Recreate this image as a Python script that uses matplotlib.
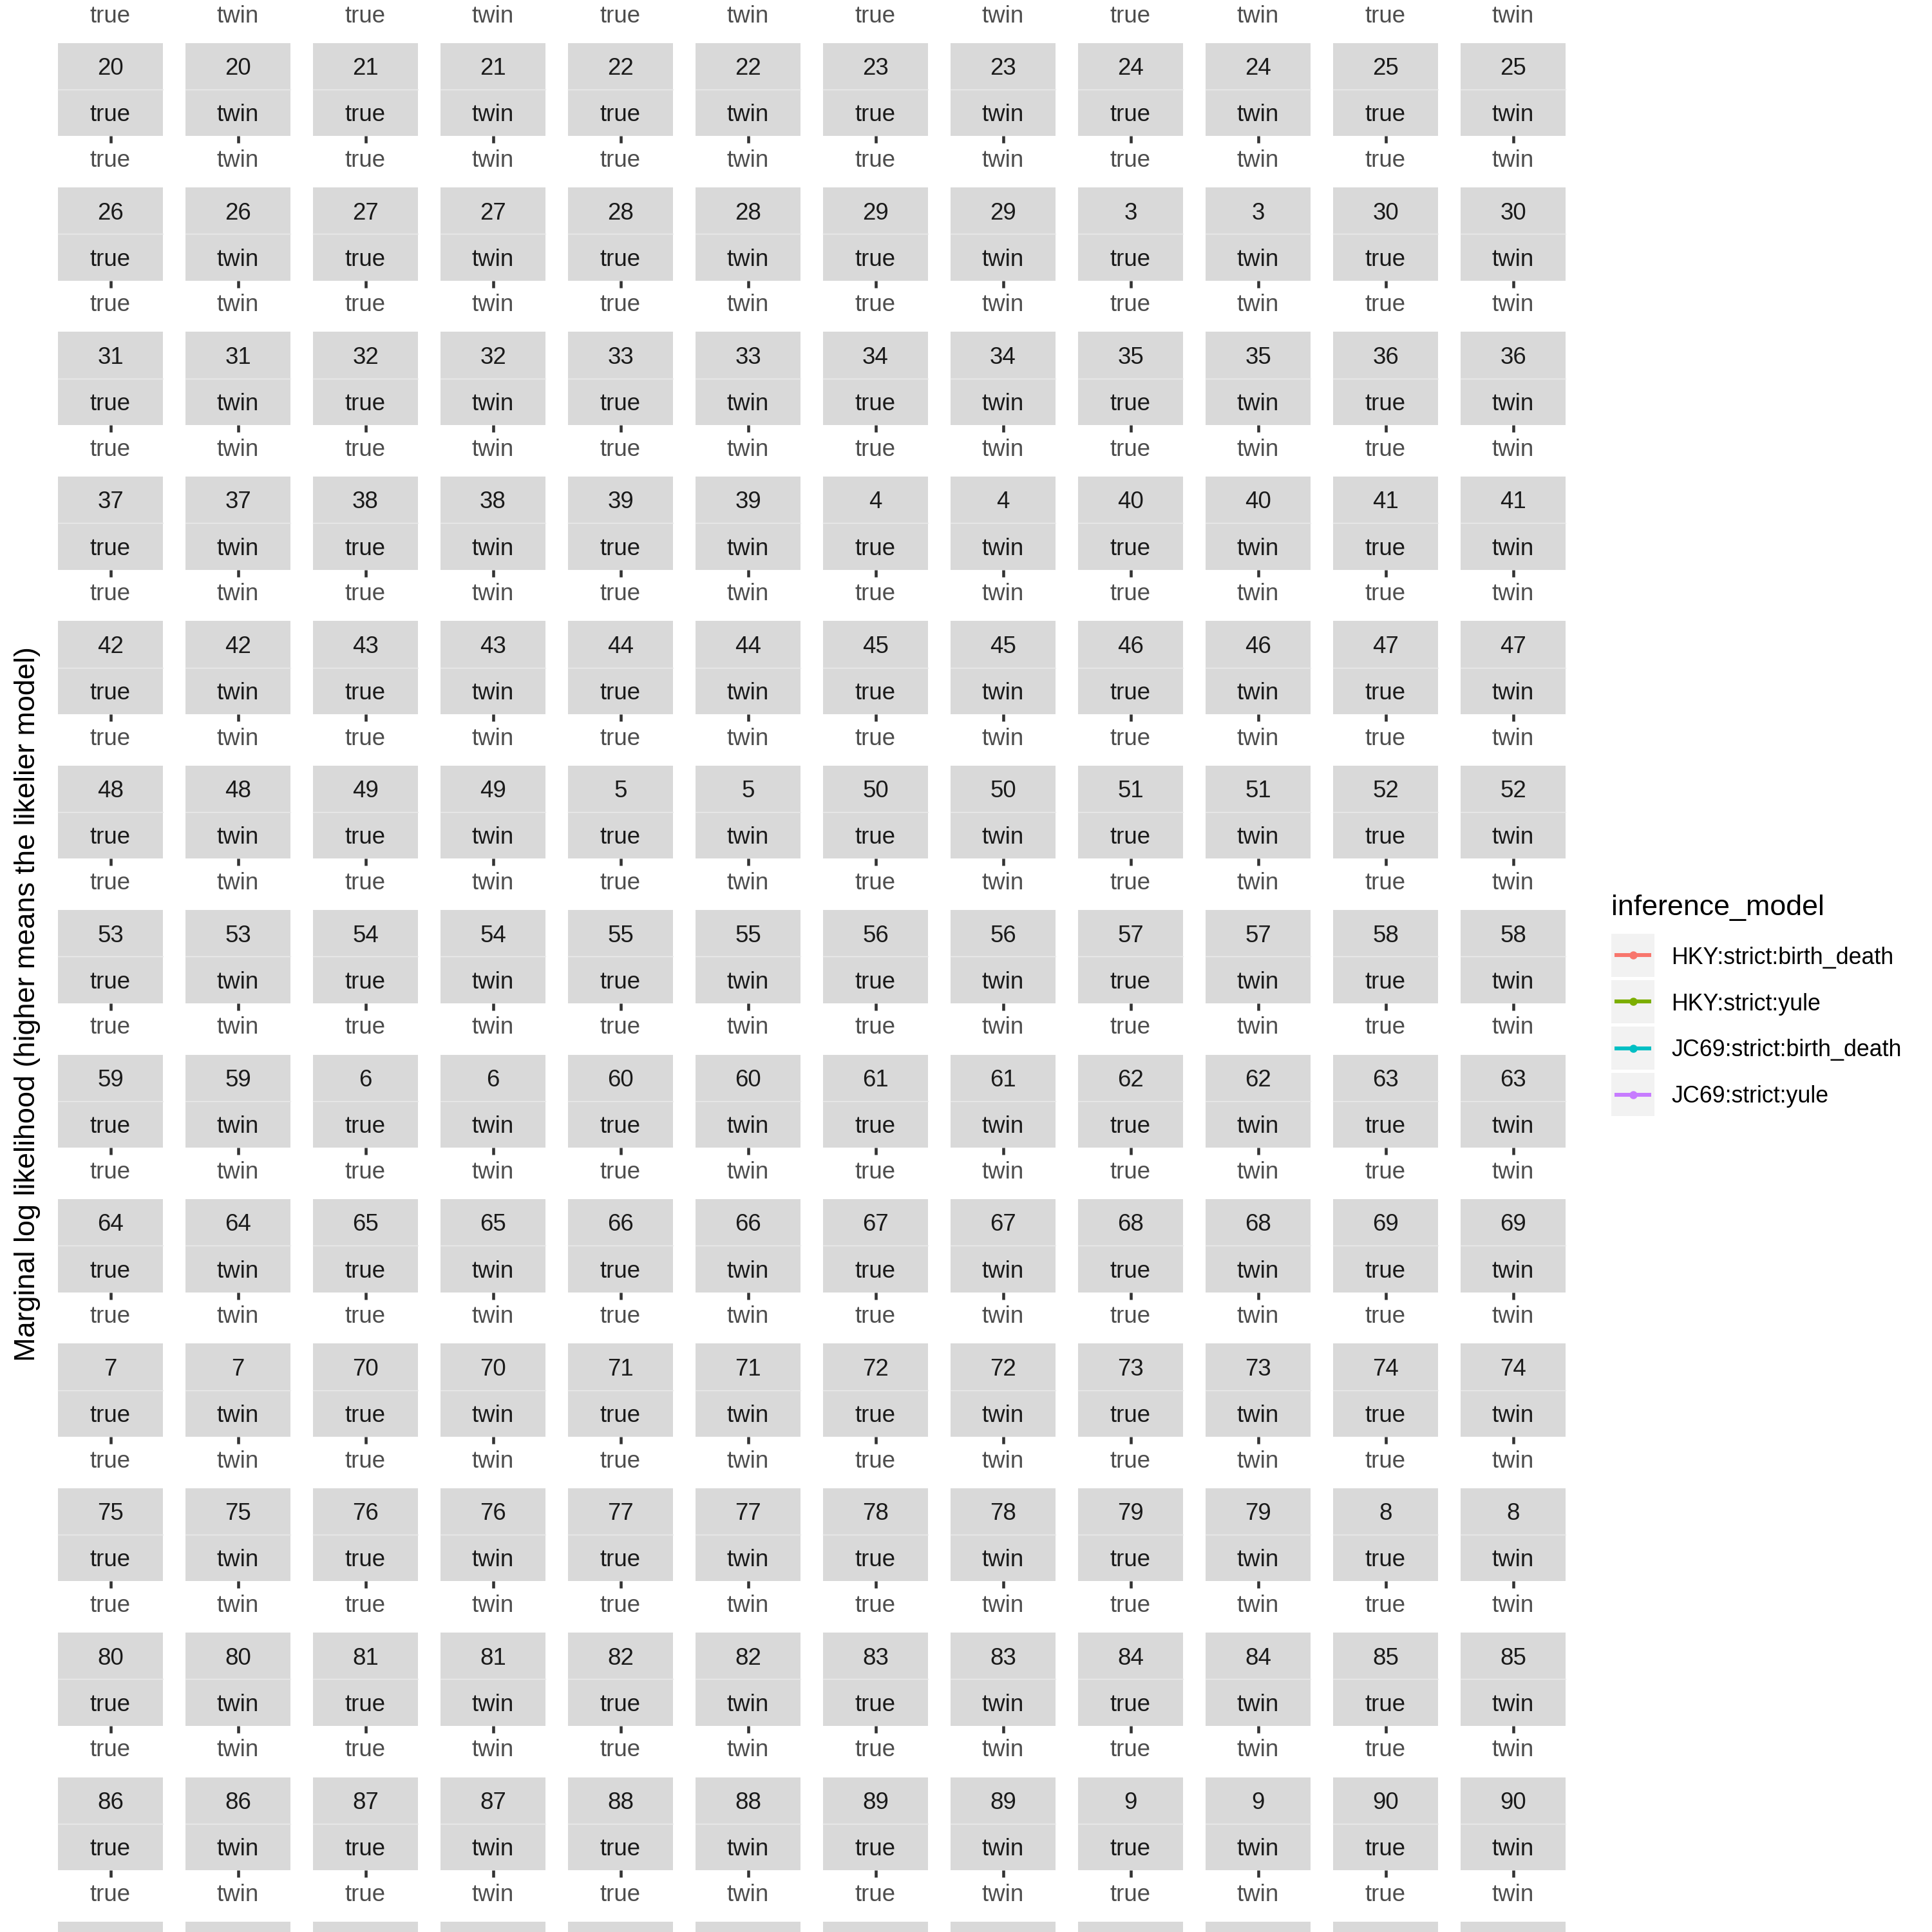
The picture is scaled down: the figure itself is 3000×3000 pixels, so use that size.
import matplotlib
matplotlib.use("Agg")
import matplotlib.pyplot as plt
from matplotlib.patches import Rectangle
from matplotlib.lines import Line2D

plt.rcParams['font.family'] = ['Liberation Sans', 'DejaVu Sans']

# ---- data (categories) ----
sim_ids = sorted(str(i) for i in range(1, 100))          # facet ids, ggplot sorts them as text
tree_types = ["true", "twin"]
inference_models = ["HKY:strict:birth_death", "HKY:strict:yule",
                    "JC69:strict:birth_death", "JC69:strict:yule"]
model_colors = ["#F8766D", "#7CAE00", "#00BFC4", "#C77CFF"]
y_title = "Marginal log likelihood (higher means the likelier model)"
legend_title = "inference_model"

# ---- layout (pixels, top origin) ----
W = H = 3000
DPI = 300
NCOL = 12
COL_X0, COL_STEP, COL_W = 90, 198, 163
ROW_Y0, ROW_STEP = 66.7, 224.4      # top of strip for row holding id "20"
STRIP_H1, STRIP_H2 = 72.3, 72.3
FIRST_VISIBLE_PANEL = sim_ids.index("20") * 2

fig = plt.figure(figsize=(W / DPI, H / DPI), dpi=DPI)
fig.patch.set_facecolor("white")

def fx(x):
    return x / W

def fy(y):
    return 1 - y / H

panels = [(sid, tt) for sid in sim_ids for tt in tree_types]

for idx, (sid, tt) in enumerate(panels):
    rel = idx - FIRST_VISIBLE_PANEL
    r = rel // NCOL
    c = rel % NCOL
    top = ROW_Y0 + ROW_STEP * r
    if top > H or top + 300 < 0:
        continue
    left = COL_X0 + COL_STEP * c
    # strips
    fig.add_artist(Rectangle((fx(left), fy(top + STRIP_H1)), COL_W / W, STRIP_H1 / H,
                             transform=fig.transFigure, facecolor="#D9D9D9",
                             edgecolor="none"))
    fig.add_artist(Rectangle((fx(left), fy(top + STRIP_H1 + STRIP_H2)), COL_W / W,
                             STRIP_H2 / H, transform=fig.transFigure,
                             facecolor="#D9D9D9", edgecolor="none"))
    fig.add_artist(Line2D([fx(left), fx(left + COL_W)],
                          [fy(top + STRIP_H1), fy(top + STRIP_H1)],
                          transform=fig.transFigure, color="#EBEBEB", lw=0.35))
    if 0 < top + 30 and top + 52 < H:
        fig.text(fx(left + COL_W / 2), fy(top + 49.5), sid, ha="center",
                 va="baseline", fontsize=8.8, color="#1A1A1A")
    if 0 < top + 100 and top + 125 < H:
        fig.text(fx(left + COL_W / 2), fy(top + 121.6), tt, ha="center",
                 va="baseline", fontsize=8.8, color="#1A1A1A")
    # panel (collapsed to zero height)
    pb = top + STRIP_H1 + STRIP_H2
    if pb > H:
        continue
    ax = fig.add_axes([fx(left), fy(pb), COL_W / W, 0.00001])
    ax.set_facecolor("#EBEBEB")
    for s in ax.spines.values():
        s.set_visible(False)
    ax.set_xlim(-0.6, 0.6)
    ax.set_xticks([0])
    ax.set_xticklabels([tt])
    ax.set_yticks([])
    ax.tick_params(axis="x", length=2.75, width=1.1, color="#333333",
                   pad=2.2, labelsize=8.8, labelcolor="#4D4D4D")

# y axis title
fig.text(fx(43), fy(1559), y_title, rotation=90, ha="center", va="center",
         fontsize=10.8, color="black")

# legend
LX, KEY_W, KEY_H, KEY_STEP, KEY_TOP = 2502, 67, 67, 72, 1450
fig.text(fx(LX), fy(1421), legend_title, ha="left", va="baseline", fontsize=10.75,
         color="black")
for i, (m, col) in enumerate(zip(inference_models, model_colors)):
    kt = KEY_TOP + KEY_STEP * i
    fig.add_artist(Rectangle((fx(LX), fy(kt + KEY_H)), KEY_W / W, KEY_H / H,
                             transform=fig.transFigure, facecolor="#F2F2F2",
                             edgecolor="none"))
    cy = kt + KEY_H / 2
    fig.add_artist(Line2D([fx(LX + 5), fx(LX + KEY_W - 5)], [fy(cy), fy(cy)],
                          transform=fig.transFigure, color=col, lw=1.45,
                          solid_capstyle="butt"))
    fig.add_artist(Line2D([fx(LX + KEY_W / 2)], [fy(cy)], transform=fig.transFigure,
                          color=col, marker="o", markersize=2.0, lw=0))
    fig.text(fx(2595), fy(cy + 13), m, ha="left", va="baseline", fontsize=8.6,
             color="black")

fig.savefig("out.png", dpi=DPI, facecolor="white")
